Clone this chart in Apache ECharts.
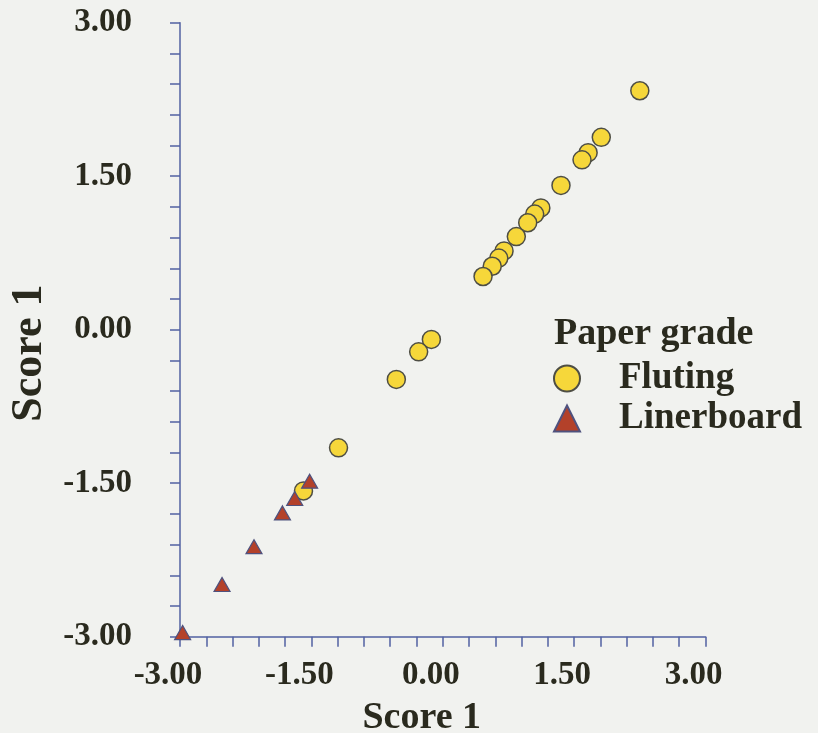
<!DOCTYPE html>
<html>
<head>
<meta charset="utf-8">
<script src="https://cdn.jsdelivr.net/npm/echarts@6/dist/echarts.min.js"></script>
<style>
html,body{margin:0;padding:0;background:#f1f2ef;}
#chart{width:818px;height:733px;}
</style>
</head>
<body>
<div id="chart"></div>
<script>
// Data
var seriesNames = ['Fluting', 'Linerboard'];
var flutingX = [2.25, 1.81, 1.66, 1.59, 1.35, 1.12, 1.05, 0.97, 0.84, 0.70, 0.64, 0.565, 0.46, -0.13, -0.275, -0.53, -1.19, -1.59];
var flutingY = [2.335, 1.88, 1.73, 1.66, 1.41, 1.19, 1.13, 1.045, 0.91, 0.77, 0.70, 0.62, 0.52, -0.095, -0.216, -0.486, -1.154, -1.575];
var linerX = [-1.52, -1.69, -1.83, -2.155, -2.52, -2.97];
var linerY = [-1.48, -1.65, -1.79, -2.12, -2.49, -2.96];
var tickLabels = ['-3.00', '-1.50', '0.00', '1.50', '3.00'];
var axisTitleX = 'Score 1';
var axisTitleY = 'Score 1';
var legendTitle = 'Paper grade';

function pairs(xs, ys) { return xs.map(function (x, i) { return [x, ys[i]]; }); }
function fmt(v) {
  var k = v / 1.5;
  if (Math.abs(k - Math.round(k)) < 1e-6) {
    var idx = Math.round(k) + 2;
    return tickLabels[idx] !== undefined ? tickLabels[idx] : '';
  }
  return '';
}

var FONT = '"Liberation Serif", "Times New Roman", serif';
var TXT = '#2a2a1e';
var AX = '#5262a2';

var chart = echarts.init(document.getElementById('chart'), null, {renderer: 'canvas'});
chart.setOption({
  backgroundColor: '#f1f2ef',
  animation: false,
  title: {
    text: legendTitle,
    left: 549, top: 310,
    textStyle: {fontFamily: FONT, fontWeight: 'bold', fontSize: 38, color: TXT}
  },
  legend: {
    orient: 'vertical',
    left: 548, top: 355,
    itemWidth: 26, itemHeight: 26,
    itemGap: 3,
    data: [
      {name: 'Fluting', icon: 'circle'},
      {name: 'Linerboard', icon: 'triangle'}
    ],
    textStyle: {fontFamily: FONT, fontWeight: 'bold', fontSize: 37, color: TXT, padding: [0, 0, 0, 34]}
  },
  grid: {left: 180, right: 112.5, top: 22.7, bottom: 96.3, containLabel: false, outerBoundsMode: 'none'},
  xAxis: {
    type: 'value', min: -3, max: 3, interval: 0.3,
    name: axisTitleX, nameLocation: 'middle', nameGap: 62,
    nameTextStyle: {fontFamily: FONT, fontWeight: 'bold', fontSize: 38, color: TXT, padding: [0, 42, 0, 0]},
    axisLine: {show: true, onZero: false, lineStyle: {color: AX, width: 1.5}},
    axisTick: {show: true, inside: false, length: 10, lineStyle: {color: AX, width: 1.5}},
    axisLabel: {formatter: fmt, margin: 22, fontFamily: FONT, fontWeight: 'bold', fontSize: 33, color: TXT, padding: [0, 24, 0, 0]},
    splitLine: {show: false}
  },
  yAxis: {
    type: 'value', min: -3, max: 3, interval: 0.3,
    name: axisTitleY, nameLocation: 'middle', nameGap: 128, nameRotate: 90,
    nameTextStyle: {fontFamily: FONT, fontWeight: 'bold', fontSize: 44, color: TXT, padding: [0, 47, 0, 0]},
    axisLine: {show: true, onZero: false, lineStyle: {color: AX, width: 1.5}},
    axisTick: {show: true, inside: false, length: 10, lineStyle: {color: AX, width: 1.5}},
    axisLabel: {formatter: fmt, margin: 48, fontFamily: FONT, fontWeight: 'bold', fontSize: 33, color: TXT},
    splitLine: {show: false}
  },
  series: [
    {
      name: 'Fluting', type: 'scatter', symbol: 'circle', symbolSize: 18,
      itemStyle: {color: '#f6d73a', borderColor: '#4e4e44', borderWidth: 1.5, opacity: 1},
      data: pairs(flutingX, flutingY), z: 2
    },
    {
      name: 'Linerboard', type: 'scatter', symbol: 'triangle', symbolSize: [16, 14],
      itemStyle: {color: '#b3412a', borderColor: '#4f527e', borderWidth: 1.2, opacity: 1},
      data: pairs(linerX, linerY), z: 3
    }
  ]
});
</script>
</body>
</html>
